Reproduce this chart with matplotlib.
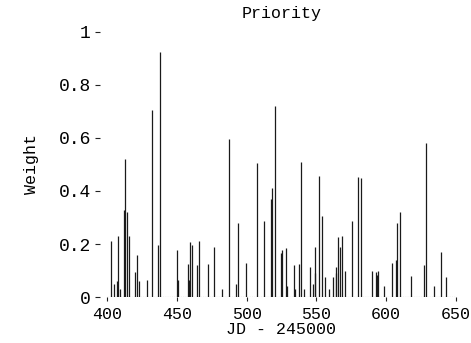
import matplotlib.pyplot as plt
import numpy as np

# JD - 245000 and priority weight of each line
jd = [402.9, 405.2, 407.0, 407.6, 409.3, 412.2, 412.9, 414.6, 415.5, 420.0,
      421.3, 423.0, 428.4, 432.0, 436.8, 438.2, 449.9, 451.0, 457.8, 458.5,
      459.5, 461.1, 464.2, 466.1, 472.1, 476.6, 482.1, 487.4, 492.2, 494.1,
      499.6, 507.2, 512.7, 517.6, 518.0, 520.1, 524.6, 525.6, 528.4, 528.8,
      534.2, 534.8, 537.5, 539.0, 541.5, 545.4, 547.5, 548.9, 549.2, 552.1,
      553.8, 555.9, 559.2, 561.6, 563.8, 564.2, 565.5, 567.3, 568.5, 570.5,
      575.7, 580.0, 582.0, 589.6, 592.7, 593.5, 594.5, 598.6, 603.9, 607.2,
      607.5, 609.9, 618.0, 627.1, 628.5, 634.0, 639.0, 642.8]
weight = [0.21, 0.05, 0.06, 0.23, 0.03, 0.33, 0.52, 0.32, 0.23, 0.095,
          0.16, 0.06, 0.065, 0.705, 0.196, 0.925, 0.177, 0.065, 0.125, 0.065,
          0.207, 0.195, 0.12, 0.21, 0.126, 0.187, 0.03, 0.595, 0.05, 0.279,
          0.13, 0.505, 0.288, 0.37, 0.41, 0.72, 0.165, 0.177, 0.184, 0.04,
          0.12, 0.03, 0.126, 0.51, 0.03, 0.115, 0.05, 0.09, 0.19, 0.457,
          0.306, 0.075, 0.03, 0.075, 0.115, 0.09, 0.225, 0.19, 0.23, 0.1,
          0.288, 0.454, 0.45, 0.1, 0.095, 0.085, 0.1, 0.04, 0.13, 0.14,
          0.28, 0.322, 0.08, 0.12, 0.58, 0.04, 0.171, 0.075]

xticks = [400, 450, 500, 550, 600, 650]
yticks = [0, 0.2, 0.4, 0.6, 0.8, 1]
ylabels = ["0", "0.2", "0.4", "0.6", "0.8", "1"]

plt.rcParams['font.family'] = ['Liberation Mono', 'DejaVu Sans Mono']

fig = plt.figure(figsize=(4.71, 3.43), dpi=100)
ax = fig.add_axes([0.227, 0.134, 0.741, 0.773])

ax.vlines(jd, 0, weight, color='#1a1a1a', linewidth=0.9)
ax.axhline(0, color='#555555', linewidth=0.8, linestyle=(0, (1, 1)))

ax.set_xlim(400, 650)
ax.set_ylim(0, 1)
ax.set_xticks(xticks)
ax.set_yticks(yticks)
ax.set_yticklabels(ylabels)

for s in ax.spines.values():
    s.set_visible(False)
ax.spines['left'].set_position(('outward', 5))

ax.tick_params(axis='y', direction='out', length=3.5, width=0.8, pad=3,
               labelsize=13, color='#222222')
ax.tick_params(axis='x', direction='out', length=3, width=0.8, pad=4,
               labelsize=12, color='#222222')

ax.set_title("Priority", fontsize=12, pad=10)
ax.set_xlabel("JD - 245000", fontsize=12, labelpad=0)
ax.set_ylabel("Weight", fontsize=12, labelpad=14)

fig.savefig("out.png", dpi=100)
